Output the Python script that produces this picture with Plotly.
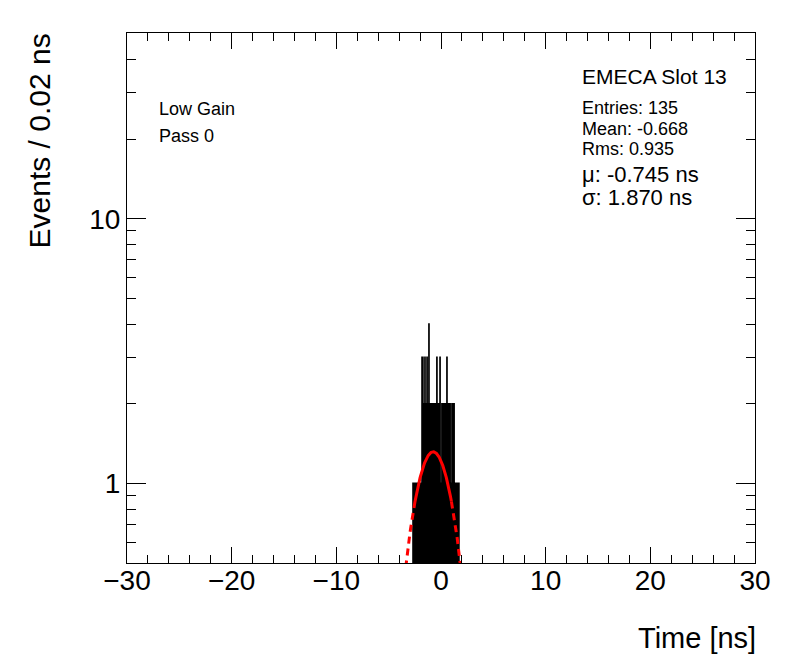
import numpy as np
import plotly.graph_objects as go

# ---------------- data ----------------
bin_width = 0.02
x_min, x_max = -30.0, 30.0

# non-empty bins of the timing histogram (bin centre [ns], entries)
bin_centers = [
    -2.67, -2.57, -2.49, -2.39, -2.29, -2.19, -2.09, -2.01, -1.91,
    -1.83, -1.81, -1.73, -1.69, -1.65, -1.63, -1.55, -1.53, -1.45, -1.41,
    -1.35, -1.33, -1.27, -1.25, -1.17, -1.15, -1.13,
    -1.09, -1.07, -1.03, -0.99, -0.95, -0.93, -0.89, -0.87, -0.83,
    -0.79, -0.77, -0.73, -0.69, -0.67, -0.65, -0.59, -0.57, -0.55,
    -0.49, -0.47, -0.45, -0.41, -0.39, -0.31, -0.29, -0.27,
    -0.21, -0.19, -0.17, -0.11, -0.09, 0.01,
    0.07, 0.09, 0.17, 0.19, 0.27, 0.31, 0.37, 0.39, 0.47, 0.49,
    0.55, 0.57, 0.65, 0.67, 0.75, 0.77, 0.87, 0.95, 1.03, 1.05,
    1.15, 1.25, 1.33, 1.43, 1.53, 1.63, 1.71,
]
bin_counts = [
    1, 1, 1, 1, 1, 1, 1, 1, 1,
    1, 3, 3, 1, 1, 2, 1, 3, 2, 1,
    1, 3, 1, 2, 1, 4, 1,
    1, 2, 2, 2, 2, 1, 2, 1, 2,
    1, 1, 1, 2, 1, 2, 2, 1, 2,
    2, 1, 2, 2, 3, 2, 1, 2,
    2, 1, 2, 2, 3, 1,
    1, 2, 1, 2, 2, 2, 2, 1, 2, 1,
    1, 3, 1, 2, 2, 1, 2, 1, 1, 2,
    2, 2, 1, 1, 1, 1, 1,
]

# Gaussian fit result
fit_mu = -0.745
fit_sigma = 1.870
fit_amplitude = 1.316

x_tick_vals = [-30, -20, -10, 0, 10, 20, 30]
y_tick_vals = [1, 10]
y_tick_text = ["1", "10"]
y_minor_vals = [0.6, 0.7, 0.8, 0.9, 2, 3, 4, 5, 6, 7, 8, 9, 20, 30, 40, 50]
y_min, y_max = 0.5, 50.4

title_text = "EMECA Slot 13"
stats_lines = ["Entries: 135", "Mean: -0.668", "Rms: 0.935"]
fit_lines = ["μ: -0.745 ns", "σ: 1.870 ns"]
info_lines = ["Low Gain", "Pass 0"]

# ---------------- build histogram outline ----------------
n_bins = int(round((x_max - x_min) / bin_width))
counts = np.zeros(n_bins)
for c, n in zip(bin_centers, bin_counts):
    k = int(np.floor((c - x_min) / bin_width + 1e-9))
    counts[k] += n
edges = x_min + bin_width * np.arange(n_bins + 1)
floor_val = 1e-3  # empty bins drop below the visible log range
step_y = np.where(counts > 0, counts, floor_val)
step_y = np.append(step_y, step_y[-1])

fit_x = np.linspace(-6.0, 4.5, 600)
fit_y = fit_amplitude * np.exp(-((fit_x - fit_mu) ** 2) / (2 * fit_sigma ** 2))
# the drawn fit looks solid where it is flat, dashed on the steep flanks
solid_level = 0.85
core = fit_y >= solid_level
idx = np.where(core)[0]
i0, i1 = idx[0], idx[-1]

FONT = "Liberation Sans, Arial, Helvetica, sans-serif"

fig = go.Figure()
fig.add_trace(go.Scatter(
    x=edges, y=step_y, mode="lines",
    line=dict(color="black", width=1.5, shape="hv", simplify=False),
    hoverinfo="skip", showlegend=False,
))
fit_style_dash = dict(color="#ff0000", width=3, dash="7px,5px")
fit_style_solid = dict(color="#ff0000", width=3)
fig.add_trace(go.Scatter(
    x=fit_x[i0:i1 + 1], y=fit_y[i0:i1 + 1], mode="lines",
    line=fit_style_solid, hoverinfo="skip", showlegend=False,
))
fig.add_trace(go.Scatter(
    x=fit_x[i0::-1], y=fit_y[i0::-1], mode="lines",
    line=fit_style_dash, hoverinfo="skip", showlegend=False,
))
fig.add_trace(go.Scatter(
    x=fit_x[i1:], y=fit_y[i1:], mode="lines",
    line=fit_style_dash, hoverinfo="skip", showlegend=False,
))

# the page body adds an 8 px offset; frame in page px: x 127..755, y 33..563
OFF = 8
W, H = 796 - OFF, 672 - OFF
FX0, FX1, FY0, FY1 = 127, 755, 33, 563
L, R, T, B = FX0 - OFF, W + OFF - FX1, FY0 - OFF, H + OFF - FY1
pw, ph = FX1 - FX0, FY1 - FY0


def px(xp):
    return (xp - FX0) / pw


def py(yp):
    return (FY1 - yp) / ph


annotations = []


def add_text(text, xp, yp, size, xanchor="left", angle=0, yanchor="middle"):
    annotations.append(dict(
        text=text, x=px(xp), y=py(yp), xref="paper", yref="paper",
        xanchor=xanchor, yanchor=yanchor, showarrow=False, textangle=angle,
        borderpad=0,
        font=dict(family=FONT, size=size, color="black"),
    ))


add_text(title_text, 581, 76, 21)
for t, yy in zip(stats_lines, [108, 129, 148.5]):
    add_text(t, 581, yy, 18)
for t, yy in zip(fit_lines, [174, 197]):
    add_text(t, 581, yy, 22)
for t, yy in zip(info_lines, [108.5, 136]):
    add_text(t, 158, yy, 18)

# axis titles
add_text("Time [ns]", 757, 638, 29, xanchor="right")
annotations.append(dict(
    text="Events / 0.02 ns", x=px(39), y=1.0, xref="paper", yref="paper",
    xanchor="center", yanchor="top", showarrow=False, textangle=-90,
    borderpad=0,
    font=dict(family=FONT, size=30, color="black"),
))

fig.update_layout(
    width=W, height=H, autosize=False,
    margin=dict(l=L, r=R, t=T, b=B, pad=0),
    paper_bgcolor="white", plot_bgcolor="white",
    font=dict(family=FONT, color="black"),
    showlegend=False,
    annotations=annotations,
    xaxis=dict(
        range=[x_min, x_max], tickmode="array", tickvals=x_tick_vals,
        ticks="inside", ticklen=16, tickwidth=1, tickcolor="black",
        minor=dict(dtick=2, tick0=0, ticks="inside", ticklen=8,
                   tickwidth=1, tickcolor="black", showgrid=False),
        showline=True, linecolor="black", linewidth=1, mirror="allticks",
        showgrid=False, zeroline=False, ticklabelstandoff=-8,
        tickfont=dict(family=FONT, size=28, color="black"),
    ),
    yaxis=dict(
        type="log", range=[np.log10(y_min), np.log10(y_max)],
        tickmode="array", tickvals=y_tick_vals, ticktext=y_tick_text,
        ticks="inside", ticklen=19, tickwidth=1, tickcolor="black",
        minor=dict(tickmode="array", tickvals=y_minor_vals, ticks="inside",
                   ticklen=9, tickwidth=1, tickcolor="black", showgrid=False),
        showline=True, linecolor="black", linewidth=1, mirror="allticks",
        showgrid=False, zeroline=False, ticklabelstandoff=0,
        tickfont=dict(family=FONT, size=28, color="black"),
    ),
)

fig.write_html("out.html")
